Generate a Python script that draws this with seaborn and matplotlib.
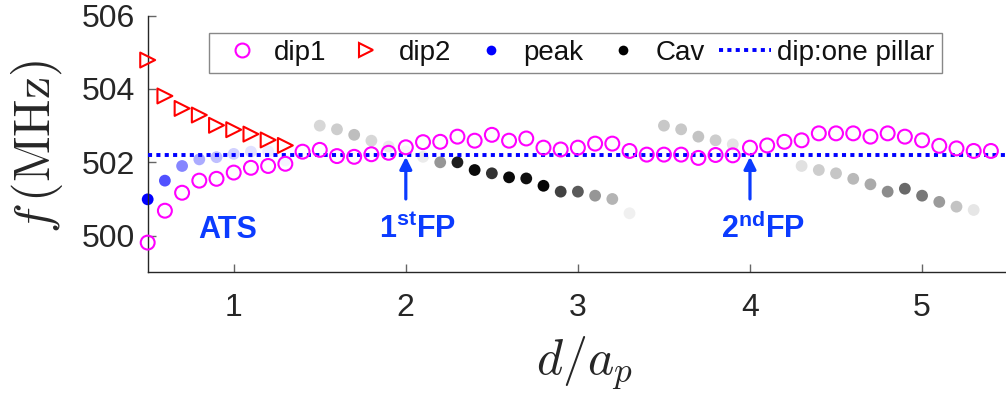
import numpy as np
import pandas as pd
import seaborn as sns
from matplotlib import pyplot as plt
from matplotlib.colors import LinearSegmentedColormap
from matplotlib.lines import Line2D

sns.set_theme(style="ticks")
plt.rcParams["font.family"] = ["Liberation Sans", "DejaVu Sans"]
plt.rcParams["mathtext.fontset"] = "cm"
plt.rcParams["mathtext.bf"] = "Liberation Sans:bold"
plt.rcParams["mathtext.rm"] = "Liberation Sans"

# dip1: 0.5 .. 5.4 step 0.1
dip1_x = [round(0.5 + 0.1 * i, 1) for i in range(50)]
dip1_f = [499.81, 500.68, 501.17, 501.50, 501.55, 501.72, 501.85, 501.90, 501.96, 502.29,
          502.34, 502.17, 502.15, 502.22, 502.26, 502.41, 502.55, 502.56, 502.70, 502.59,
          502.75, 502.59, 502.65, 502.40, 502.35, 502.40, 502.51, 502.51, 502.31, 502.21,
          502.21, 502.21, 502.12, 502.20, 502.19, 502.40, 502.46, 502.56, 502.60, 502.79,
          502.79, 502.79, 502.70, 502.79, 502.70, 502.60, 502.45, 502.38, 502.31, 502.31]

dip2_x = [0.5, 0.6, 0.7, 0.8, 0.9, 1.0, 1.1, 1.2, 1.3]
dip2_f = [504.79, 503.81, 503.47, 503.29, 503.01, 502.89, 502.77, 502.61, 502.46]

peak_x = [0.5, 0.6, 0.7, 0.8, 0.9, 1.0, 1.1, 1.2, 1.3]
peak_f = [500.99, 501.50, 501.90, 502.08, 502.14, 502.23, 502.29, 502.30, 502.05]
peak_weight = [1.0, 0.68, 0.48, 0.33, 0.25, 0.18, 0.12, 0.07, 0.04]

cav_x = [1.5, 1.6, 1.7, 1.8, 1.9, 2.0, 2.1, 2.2, 2.3, 2.4, 2.5, 2.6, 2.7, 2.8, 2.9, 3.0,
         3.1, 3.2, 3.3, 3.5, 3.6, 3.7, 3.8, 3.9, 4.3, 4.4, 4.5, 4.6, 4.7, 4.8, 4.9, 5.0,
         5.1, 5.2, 5.3]
cav_f = [503.00, 502.90, 502.75, 502.59, 502.43, 502.30, 502.15, 502.00, 502.00, 501.79,
         501.70, 501.59, 501.56, 501.36, 501.20, 501.20, 501.09, 501.00, 500.61, 503.00,
         502.90, 502.70, 502.60, 502.49, 501.90, 501.79, 501.70, 501.55, 501.40, 501.20,
         501.28, 501.09, 500.92, 500.79, 500.70]
cav_gray = [215, 205, 190, 215, 235, 248, 235, 150, 30, 10, 50, 10, 15, 5, 65, 90,
            150, 180, 240, 200, 200, 195, 205, 228, 225, 205, 198, 185, 170, 140, 105, 120,
            155, 195, 230]

one_pillar_f = 502.2

x_ticks = [1, 2, 3, 4, 5]
y_ticks = [500, 502, 504, 506]

notes = [("ATS", 0.967), (r"1$^{\mathbf{st}}$FP", 2.067), (r"2$^{\mathbf{nd}}$FP", 4.075)]
arrow_x = [2.0, 4.0]

label_blue = "#0b3bff"
line_blue = "#0000ff"
dots = (0, (1.05, 1.1))

df_peak = pd.DataFrame({"x": peak_x, "f": peak_f, "w": peak_weight})
df_cav = pd.DataFrame({"x": cav_x, "f": cav_f, "dark": [1 - g / 255 for g in cav_gray]})

blue_cmap = LinearSegmentedColormap.from_list("wb", ["#ffffff", line_blue])
gray_cmap = LinearSegmentedColormap.from_list("wk", ["#ffffff", "#000000"])

fig = plt.figure(figsize=(10.06, 3.96), dpi=100)
ax = fig.add_axes([0.1468, 0.3124, 0.8553, 0.648])

sns.scatterplot(data=df_cav, x="x", y="f", hue="dark", palette=gray_cmap, hue_norm=(0, 1),
                s=72, linewidth=0, legend=False, ax=ax, zorder=2, clip_on=False)
sns.scatterplot(data=df_peak, x="x", y="f", hue="w", palette=blue_cmap, hue_norm=(0, 1),
                s=72, linewidth=0, legend=False, ax=ax, zorder=2, clip_on=False)
ax.axhline(one_pillar_f, color=line_blue, lw=2.8, ls=dots, zorder=3)
sns.scatterplot(x=dip2_x, y=dip2_f, marker=">", s=115, facecolor="none", edgecolor="#ff0000",
                linewidth=1.5, ax=ax, zorder=4, clip_on=False)
sns.scatterplot(x=dip1_x, y=dip1_f, marker="o", s=100, facecolor="none", edgecolor="#ff00ff",
                linewidth=1.5, ax=ax, zorder=5, clip_on=False)

for txt, xpos in notes:
    ax.text(xpos, 499.93, txt, ha="center", va="baseline", fontsize=22, fontweight="bold",
            color=label_blue, math_fontfamily="custom")
for xa in arrow_x:
    ax.annotate("", xy=(xa, 502.15), xytext=(xa, 501.0),
                arrowprops=dict(arrowstyle="-|>", lw=2.3, color=label_blue,
                                mutation_scale=18, shrinkA=0, shrinkB=0))

ax.set_xlim(0.5, 5.5)
ax.set_ylim(499, 506)
ax.set_xticks(x_ticks)
ax.set_yticks(y_ticks)
sns.despine(ax=ax)
for sp in ["left", "bottom"]:
    ax.spines[sp].set_color("#262626")
    ax.spines[sp].set_linewidth(1.0)
ax.tick_params(axis="both", direction="in", length=6, width=1, color="#666666",
               labelsize=23, labelcolor="#262626")
ax.tick_params(axis="x", pad=15)
ax.tick_params(axis="y", pad=9)

ax.set_xlabel(r"$d/a_p$", fontsize=36, color="#262626")
ax.set_ylabel(r"$f\,(\mathrm{MHz})$", fontsize=36, color="#262626")
ax.xaxis.set_label_coords(0.508, -0.244)
ax.yaxis.set_label_coords(-0.096, 0.492)

handles = [
    Line2D([], [], ls="none", marker="o", ms=10, mfc="none", mec="#ff00ff", mew=1.5),
    Line2D([], [], ls="none", marker=">", ms=10, mfc="none", mec="#ff0000", mew=1.5),
    Line2D([], [], ls="none", marker="o", ms=7, mfc=line_blue, mec="none"),
    Line2D([], [], ls="none", marker="o", ms=7, mfc="#000000", mec="none"),
    Line2D([], [], color=line_blue, lw=2.8, ls=dots),
]
leg = ax.legend(handles, ["dip1", "dip2", "peak", "Cav", "dip:one pillar"], ncol=5,
                loc="upper left", bbox_to_anchor=(0.0713, 0.9326), borderaxespad=0,
                fontsize=20, frameon=True, fancybox=False, framealpha=1,
                edgecolor="#888888", handlelength=1.85, handletextpad=0.25,
                columnspacing=0.5, borderpad=0.25)
leg.get_frame().set_linewidth(1.0)
for t in leg.get_texts():
    t.set_color("#111111")

fig.savefig("out.png", dpi=100)
